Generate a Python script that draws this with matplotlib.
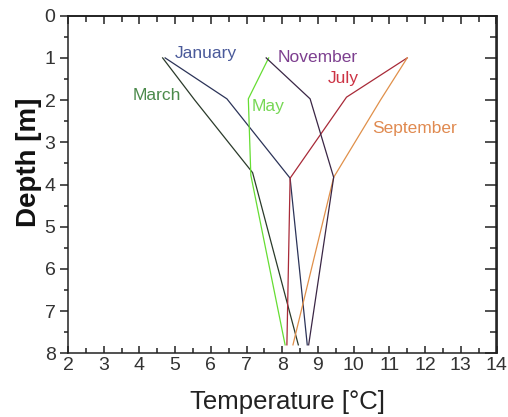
import matplotlib
matplotlib.use("Agg")
import matplotlib.pyplot as plt
from matplotlib.ticker import MultipleLocator

plt.rcParams['font.family'] = ['Liberation Sans', 'DejaVu Sans']

# Data: temperature (°C) at depth (m)
jan_t = [4.72, 6.45, 8.22, 8.70]
jan_d = [1.0, 1.97, 3.85, 7.8]
mar_t = [4.65, 5.55, 7.17, 8.45]
mar_d = [1.0, 2.0, 3.72, 7.8]
may_t = [7.62, 7.05, 7.12, 8.08]
may_d = [1.0, 1.97, 3.78, 7.8]
jul_t = [11.5, 9.80, 8.22, 8.13]
jul_d = [1.0, 1.93, 3.85, 7.8]
sep_t = [11.5, 10.75, 9.44, 8.30]
sep_d = [1.0, 2.0, 3.83, 7.8]
nov_t = [7.55, 8.78, 9.44, 8.74]
nov_d = [1.0, 1.97, 3.83, 7.8]

series = [
    ("January", jan_t, jan_d, "#2b3358", "#4a5a9a", (5.0, 0.89)),
    ("March", mar_t, mar_d, "#2a3a2a", "#4b8a4b", (3.82, 1.9)),
    ("May", may_t, may_d, "#66dd33", "#77d855", (7.15, 2.14)),
    ("July", jul_t, jul_d, "#a82a38", "#cc3344", (9.28, 1.5)),
    ("September", sep_t, sep_d, "#e0904a", "#e08a50", (10.52, 2.68)),
    ("November", nov_t, nov_d, "#3a2645", "#7d3f8f", (7.88, 0.99)),
]

fig = plt.figure(figsize=(5.08, 4.17), dpi=100)
ax = fig.add_axes([68/508, 1-353.3/417, (496.5-68)/508, (353.3-15.7)/417])

for name, t, d, lc, tc, (lx, ly) in series:
    ax.plot(t, d, color=lc, lw=0.9)
    ax.text(lx, ly, name, color=tc, fontsize=12.5, ha='left', va='center')

ax.set_xlim(2, 14)
ax.set_ylim(8, 0)

for s in ax.spines.values():
    s.set_color('#222222')
    s.set_linewidth(1.1)

ax.xaxis.set_major_locator(MultipleLocator(1))
ax.xaxis.set_minor_locator(MultipleLocator(0.5))
ax.yaxis.set_major_locator(MultipleLocator(1))
ax.yaxis.set_minor_locator(MultipleLocator(0.5))

ax.tick_params(axis='x', which='major', direction='in', length=5, width=1.1,
               color='#222222', labelsize=14, labelcolor='#333333', pad=3)
ax.tick_params(axis='x', which='minor', direction='in', length=3.5, width=1.1, color='#222222')
ax.tick_params(axis='y', which='major', direction='out', length=6, width=1.1,
               color='#222222', labelsize=14, labelcolor='#333333', pad=3)
ax.tick_params(axis='y', which='minor', direction='out', length=3, width=1.1, color='#222222')

top = ax.secondary_xaxis('top')
top.xaxis.set_major_locator(MultipleLocator(1))
top.xaxis.set_minor_locator(MultipleLocator(0.5))
top.tick_params(which='major', direction='in', length=6, width=1.1, color='#222222', labeltop=False)
top.tick_params(which='minor', direction='in', length=4, width=1.1, color='#222222')
top.spines['top'].set_linewidth(1.1)

right = ax.secondary_yaxis('right')
right.yaxis.set_major_locator(MultipleLocator(1))
right.yaxis.set_minor_locator(MultipleLocator(0.5))
right.tick_params(which='major', direction='in', length=9, width=1.1, color='#222222', labelright=False)
right.tick_params(which='minor', direction='in', length=5, width=1.1, color='#222222')
right.spines['right'].set_linewidth(1.1)

fig.text(287.5/508, 1-401.7/417, "Temperature [°C]", fontsize=18.5, color='#222222',
         ha='center', va='center')
fig.text(29/508, 1-162.5/417, "Depth [m]", fontsize=20, fontweight='bold', color='#111111',
         ha='center', va='center', rotation=90)

fig.savefig("out.png", dpi=100)
